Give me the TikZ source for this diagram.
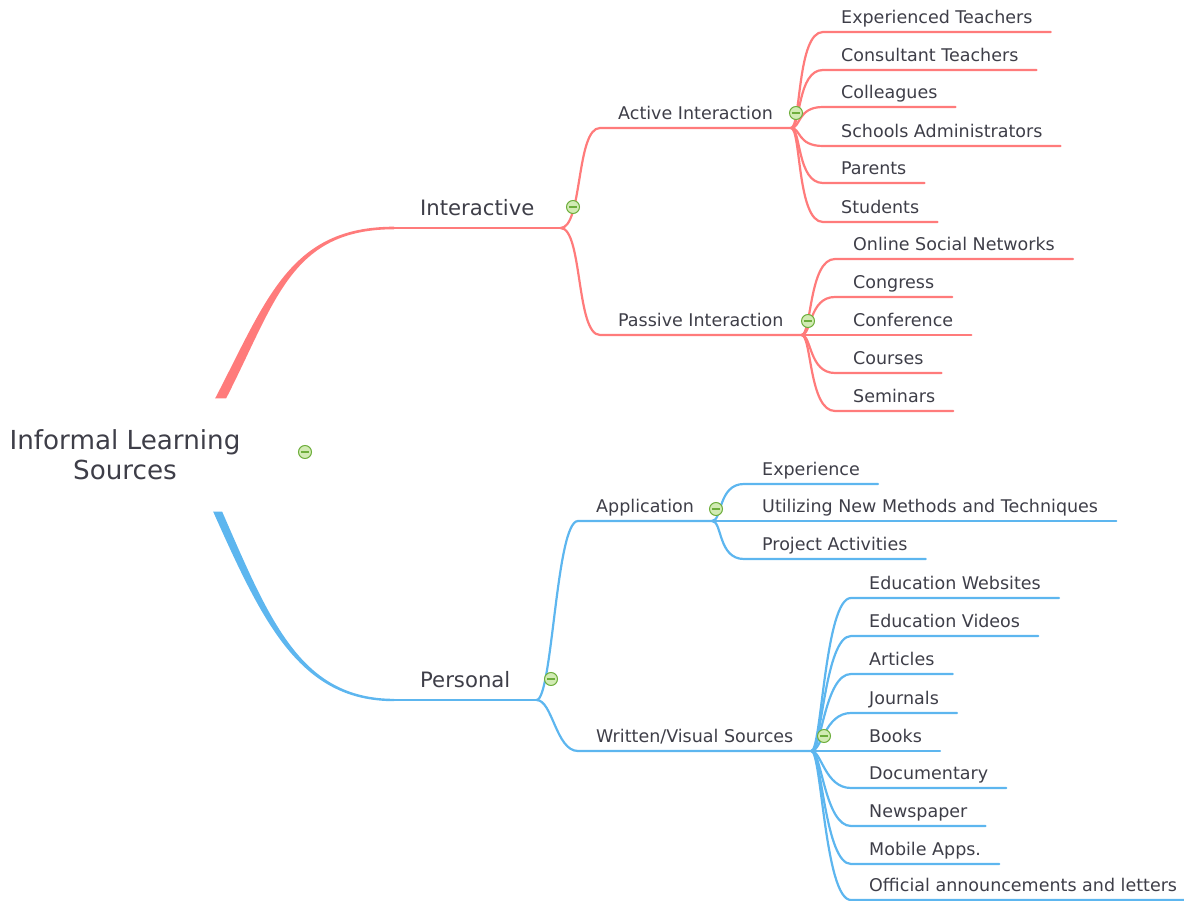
\documentclass[tikz,border=0pt]{standalone}
\usepackage{fontspec}
\setmainfont{DejaVu Sans}
\usetikzlibrary{calc}

\definecolor{redbr}{HTML}{FF7B7B}
\definecolor{bluebr}{HTML}{5DB6EF}
\definecolor{txt}{HTML}{3E3E48}
\definecolor{togfill}{HTML}{D2EBB4}
\definecolor{togline}{HTML}{6EAE3C}

\tikzset{
  leaf/.style={anchor=south west, inner xsep=18pt, inner ysep=4.3pt, text height=12.8pt, text depth=4.2pt, text=txt, font=\fontsize{17.5}{21}\selectfont},
  main/.style={anchor=south west, inner xsep=26pt, inner ysep=6.8pt, text height=15.5pt, text depth=5.2pt, text=txt, font=\fontsize{21.2}{25}\selectfont},
  tog/.style={circle, draw=togline, fill=togfill, line width=1pt, minimum size=13pt, inner sep=0pt,
    path picture={\draw[togline, line width=1.4pt] ([xshift=-3.6pt]path picture bounding box.center) -- ([xshift=3.6pt]path picture bounding box.center);}},
  br/.style={line width=2.2pt, line cap=round},
}

\begin{document}
\begin{tikzpicture}[x=1pt,y=-1pt]
\useasboundingbox (0,0) rectangle (1184,901);

\node[font=\fontsize{26.2}{30}\selectfont, text=txt, align=center, minimum width=250pt, minimum height=113pt] (root) at (125,455) {Informal Learning\\Sources};

\node[main] (int) at (394,228) {Interactive};
\node[main] (per) at (394,700) {Personal};

\node[leaf] (act) at (600,128) {Active Interaction};
\node[leaf] (pas) at (600,335) {Passive Interaction};
\node[leaf] (app) at (578,521) {Application};
\node[leaf] (wri) at (578,751) {Written/Visual Sources};

% active
\node[leaf] (et) at (823,32) {Experienced Teachers};
\node[leaf] (ct) at (823,70) {Consultant Teachers};
\node[leaf] (col) at (823,107) {Colleagues};
\node[leaf] (sa) at (823,146) {Schools Administrators};
\node[leaf] (par) at (823,183) {Parents};
\node[leaf] (stu) at (823,222) {Students};
% passive
\node[leaf] (osn) at (835,259) {Online Social Networks};
\node[leaf] (cgr) at (835,297) {Congress};
\node[leaf] (cnf) at (835,335) {Conference};
\node[leaf] (crs) at (835,373) {Courses};
\node[leaf] (sem) at (835,411) {Seminars};
% application
\node[leaf] (exp) at (744,484) {Experience};
\node[leaf] (unm) at (744,521) {Utilizing New Methods and Techniques};
\node[leaf] (pa) at (744,559) {Project Activities};
% written
\node[leaf] (ew) at (851,598) {Education Websites};
\node[leaf] (ev) at (851,636) {Education Videos};
\node[leaf] (art) at (851,674) {Articles};
\node[leaf] (jou) at (851,713) {Journals};
\node[leaf] (bk) at (851,751) {Books};
\node[leaf] (doc) at (851,788) {Documentary};
\node[leaf] (nws) at (851,826) {Newspaper};
\node[leaf] (mob) at (851,864) {Mobile Apps.};
\node[leaf] (off) at (851,900) {Official announcements and letters};

% trunks
\fill[redbr] ($(root.north east)+(-35,0)$) .. controls +(52,-100) and +(-104,0) .. ($(int.south west)+(0,-1.3)$)
  -- ($(int.south west)+(0,1.3)$) .. controls +(-103,0) and +(50,-98) .. ($(root.north east)+(-24,0)$) -- cycle;
\fill[bluebr] ($(root.south east)+(-37,0)$) .. controls +(50,112) and +(-94,0) .. ($(per.south west)+(0,1.2)$)
  -- ($(per.south west)+(0,-1.2)$) .. controls +(-93,0) and +(48,110) .. ($(root.south east)+(-28,0)$) -- cycle;

\draw[br, redbr, line width=2.5pt] (int.south west) -- (int.south east);
\draw[br, bluebr, line width=2.5pt] (per.south west) -- (per.south east);

\draw[br, redbr] (int.south east) .. controls +(22,0) and +(-24,0) .. (act.south west) -- (act.south east);
\draw[br, redbr] (int.south east) .. controls +(22,0) and +(-24,0) .. (pas.south west) -- (pas.south east);
\draw[br, bluebr] (per.south east) .. controls +(16,0) and +(-22,0) .. (app.south west) -- (app.south east);
\draw[br, bluebr] (per.south east) .. controls +(16,0) and +(-22,0) .. (wri.south west) -- (wri.south east);

\draw[br, redbr] (act.south east) .. controls +(10,0) and +(-26,0) .. (et.south west) -- (et.south east);
\draw[br, redbr] (act.south east) .. controls +(10,0) and +(-26,0) .. (ct.south west) -- (ct.south east);
\draw[br, redbr] (act.south east) .. controls +(10,0) and +(-26,0) .. (col.south west) -- (col.south east);
\draw[br, redbr] (act.south east) .. controls +(10,0) and +(-26,0) .. (sa.south west) -- (sa.south east);
\draw[br, redbr] (act.south east) .. controls +(10,0) and +(-26,0) .. (par.south west) -- (par.south east);
\draw[br, redbr] (act.south east) .. controls +(10,0) and +(-26,0) .. (stu.south west) -- (stu.south east);

\draw[br, redbr] (pas.south east) .. controls +(10,0) and +(-26,0) .. (osn.south west) -- (osn.south east);
\draw[br, redbr] (pas.south east) .. controls +(10,0) and +(-26,0) .. (cgr.south west) -- (cgr.south east);
\draw[br, redbr] (pas.south east) .. controls +(10,0) and +(-26,0) .. (cnf.south west) -- (cnf.south east);
\draw[br, redbr] (pas.south east) .. controls +(10,0) and +(-26,0) .. (crs.south west) -- (crs.south east);
\draw[br, redbr] (pas.south east) .. controls +(10,0) and +(-26,0) .. (sem.south west) -- (sem.south east);

\draw[br, bluebr] (app.south east) .. controls +(10,0) and +(-26,0) .. (exp.south west) -- (exp.south east);
\draw[br, bluebr] (app.south east) .. controls +(10,0) and +(-26,0) .. (unm.south west) -- (unm.south east);
\draw[br, bluebr] (app.south east) .. controls +(10,0) and +(-26,0) .. (pa.south west) -- (pa.south east);

\draw[br, bluebr] (wri.south east) .. controls +(10,0) and +(-26,0) .. (ew.south west) -- (ew.south east);
\draw[br, bluebr] (wri.south east) .. controls +(10,0) and +(-26,0) .. (ev.south west) -- (ev.south east);
\draw[br, bluebr] (wri.south east) .. controls +(10,0) and +(-26,0) .. (art.south west) -- (art.south east);
\draw[br, bluebr] (wri.south east) .. controls +(10,0) and +(-26,0) .. (jou.south west) -- (jou.south east);
\draw[br, bluebr] (wri.south east) .. controls +(10,0) and +(-26,0) .. (bk.south west) -- (bk.south east);
\draw[br, bluebr] (wri.south east) .. controls +(10,0) and +(-26,0) .. (doc.south west) -- (doc.south east);
\draw[br, bluebr] (wri.south east) .. controls +(10,0) and +(-26,0) .. (nws.south west) -- (nws.south east);
\draw[br, bluebr] (wri.south east) .. controls +(10,0) and +(-26,0) .. (mob.south west) -- (mob.south east);
\draw[br, bluebr] (wri.south east) .. controls +(10,0) and +(-26,0) .. (off.south west) -- (off.south east);

% collapse buttons
\node[tog] (troot) at (305,452) {};
\node[tog] (tint) at (573,207) {};
\node[tog] (tper) at (551,679) {};
\node[tog] (tact) at (796,113) {};
\node[tog] (tpas) at (808,321) {};
\node[tog] (tapp) at (716,509) {};
\node[tog] (twri) at (824,736) {};

\end{tikzpicture}
\end{document}
